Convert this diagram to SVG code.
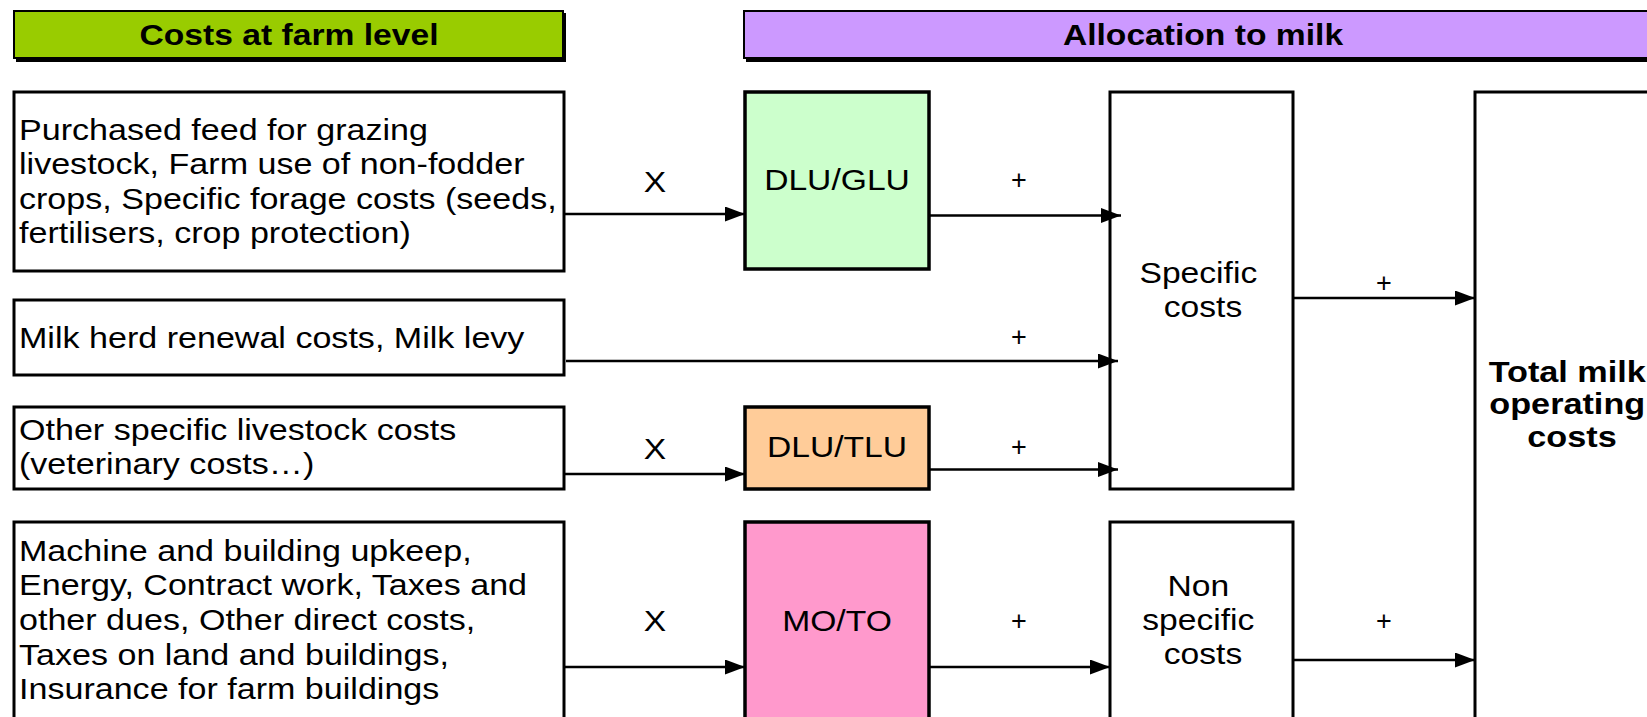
<svg xmlns="http://www.w3.org/2000/svg" width="1647" height="717" viewBox="0 0 1647 717">
<style>
text { font-family: "Liberation Sans", Arial, sans-serif; fill: #000; }
.hdr { font-weight: bold; font-size: 29.5px; text-anchor: middle; }
.body { font-size: 29.5px; }
.mid { font-size: 29.5px; text-anchor: middle; }
.bold { font-weight: bold; font-size: 29.5px; text-anchor: middle; }
.op { font-size: 29.5px; text-anchor: middle; }
.plus { font-size: 27px; text-anchor: middle; }
.box { fill: #fff; stroke: #000; stroke-width: 3; }
.conn line { stroke: #000; stroke-width: 2.5; marker-end: url(#ah); }
</style>
<defs>
<marker id="ah" markerUnits="userSpaceOnUse" markerWidth="21" markerHeight="16" refX="20" refY="7.5" orient="auto">
<path d="M0,0 L20,7.5 L0,15 z" fill="#000"/>
</marker>
</defs>
<rect width="1647" height="717" fill="#fff"/>

<g id="header-farm">
<rect x="16" y="13" width="550" height="49" fill="#000"/>
<rect x="14" y="11" width="549" height="47" fill="#99CC00" stroke="#000" stroke-width="2"/>
<text class="hdr" transform="translate(289,0) scale(1.14,1)" x="0" y="45">Costs at farm level</text>
</g>
<g id="header-milk">
<rect x="746" y="13" width="920" height="49" fill="#000"/>
<rect x="744" y="11" width="920" height="47" fill="#CC99FF" stroke="#000" stroke-width="2"/>
<text class="hdr" transform="translate(1203,0) scale(1.14,1)" x="0" y="45">Allocation to milk</text>
</g>

<g id="box-feed">
<rect class="box" x="14" y="92" width="550" height="179"/>
<text class="body" transform="translate(19,0) scale(1.155,1)">
<tspan x="0" y="140">Purchased feed for grazing</tspan>
<tspan x="0" y="174.5">livestock, Farm use of non-fodder</tspan>
<tspan x="0" y="209">crops, Specific forage costs (seeds,</tspan>
<tspan x="0" y="243.5">fertilisers, crop protection)</tspan>
</text>
</g>
<g id="box-herd">
<rect class="box" x="14" y="300" width="550" height="75"/>
<text class="body" transform="translate(19,0) scale(1.155,1)" x="0" y="348">Milk herd renewal costs, Milk levy</text>
</g>
<g id="box-vet">
<rect class="box" x="14" y="407" width="550" height="82"/>
<text class="body" transform="translate(19,0) scale(1.155,1)">
<tspan x="0" y="440">Other specific livestock costs</tspan>
<tspan x="0" y="474">(veterinary costs…)</tspan>
</text>
</g>
<g id="box-machine">
<rect class="box" x="14" y="522" width="550" height="210"/>
<text class="body" transform="translate(19,0) scale(1.155,1)">
<tspan x="0" y="561">Machine and building upkeep,</tspan>
<tspan x="0" y="595.5">Energy, Contract work, Taxes and</tspan>
<tspan x="0" y="630">other dues, Other direct costs,</tspan>
<tspan x="0" y="665">Taxes on land and buildings,</tspan>
<tspan x="0" y="699.5">Insurance for farm buildings</tspan>
</text>
</g>

<g id="dlu-glu">
<rect x="745" y="92" width="184" height="177" fill="#CCFFCC" stroke="#000" stroke-width="3.5"/>
<text class="mid" transform="translate(837,0) scale(1.14,1)" x="0" y="190">DLU/GLU</text>
</g>
<g id="dlu-tlu">
<rect x="745" y="407" width="184" height="82" fill="#FFCC99" stroke="#000" stroke-width="3.5"/>
<text class="mid" transform="translate(837,0) scale(1.14,1)" x="0" y="457">DLU/TLU</text>
</g>
<g id="mo-to">
<rect x="745" y="522" width="184" height="210" fill="#FF99CC" stroke="#000" stroke-width="3.5"/>
<text class="mid" transform="translate(837,0) scale(1.14,1)" x="0" y="631">MO/TO</text>
</g>

<g id="specific-costs">
<rect class="box" x="1110" y="92" width="183" height="397" stroke-width="3.5"/>
<text class="mid" transform="translate(1203,0) scale(1.14,1)">
<tspan x="0" y="283">Specific</tspan>
<tspan x="0" y="317">costs</tspan>
</text>
</g>
<g id="non-specific-costs">
<rect class="box" x="1110" y="522" width="183" height="210" stroke-width="3.5"/>
<text class="mid" transform="translate(1203,0) scale(1.14,1)">
<tspan x="0" y="596">Non</tspan>
<tspan x="0" y="630">specific</tspan>
<tspan x="0" y="664">costs</tspan>
</text>
</g>
<g id="total-milk">
<rect class="box" x="1475" y="92" width="200" height="640" stroke-width="3.5"/>
<text class="bold" transform="translate(1572,0) scale(1.16,1)">
<tspan x="0" y="382">Total milk</tspan>
<tspan x="0" y="414">operating</tspan>
<tspan x="0" y="447">costs</tspan>
</text>
</g>

<g id="connectors" class="conn">
<line x1="564" y1="214" x2="745" y2="214"/>
<line x1="929" y1="215.5" x2="1121" y2="215.5"/>
<line x1="566" y1="361" x2="1118" y2="361"/>
<line x1="564" y1="474" x2="745" y2="474"/>
<line x1="929" y1="469.5" x2="1118" y2="469.5"/>
<line x1="564" y1="667" x2="745" y2="667"/>
<line x1="929" y1="667" x2="1110" y2="667"/>
<line x1="1293" y1="298" x2="1475" y2="298"/>
<line x1="1293" y1="660" x2="1475" y2="660"/>
</g>

<g id="labels">
<text class="op" transform="translate(655,0) scale(1.14,1)" x="0" y="192">X</text>
<text class="op" transform="translate(655,0) scale(1.14,1)" x="0" y="459">X</text>
<text class="op" transform="translate(655,0) scale(1.14,1)" x="0" y="631">X</text>
<text class="plus" x="1019" y="189">+</text>
<text class="plus" x="1019" y="345.5">+</text>
<text class="plus" x="1019" y="455.5">+</text>
<text class="plus" x="1019" y="629.5">+</text>
<text class="plus" x="1384" y="292">+</text>
<text class="plus" x="1384" y="629.5">+</text>
</g>
</svg>
